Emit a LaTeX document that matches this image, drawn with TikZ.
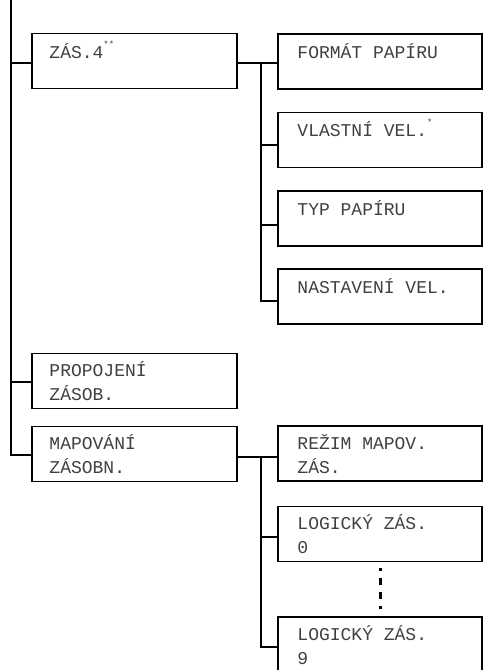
\documentclass[tikz,border=0pt]{standalone}
\usepackage{fontspec}
\setmonofont{Liberation Mono}
\usetikzlibrary{calc}
\definecolor{txt}{HTML}{404040}
\tikzset{
  box/.style={draw=black, line width=1.5pt, rectangle, minimum height=55pt, inner sep=0pt},
  lbox/.style={box, minimum width=205pt},
  rbox/.style={box, minimum width=204pt},
  lbl/.style={anchor=base west, inner sep=0pt, text=txt, font=\ttfamily\fontsize{18}{24}\selectfont},
  conn/.style={line width=1.5pt},
}
\newcommand{\sups}[1]{\raisebox{11pt}{\fontsize{9}{9}\selectfont #1}}
\newcommand{\twoln}[2]{\begin{tabular}[t]{@{}l@{}}#1\\#2\end{tabular}}
\begin{document}
\begin{tikzpicture}[x=1pt,y=-1pt]
\useasboundingbox (0,0) rectangle (484,670);
\clip (0,0) rectangle (484,670);
% boxes
\node[lbox] (zas) at (134.5,61) {};
\node[rbox] (fmt) at (380,61.5) {};
\node[rbox] (vl) at (380,140) {};
\node[rbox] (typ) at (380,218.5) {};
\node[rbox] (nas) at (380,296.5) {};
\node[lbox] (pro) at (134.5,381) {};
\node[lbox] (map) at (134.5,454) {};
\node[rbox] (rez) at (380,453.5) {};
\node[rbox] (lg0) at (380,534) {};
\node[rbox] (lg9) at (380,644.5) {};
% labels
\node[lbl] (tzas) at ([xshift=18pt,yshift=-26pt]zas.north west) {ZÁS.4\sups{**}};
\node[lbl] (tfmt) at ([xshift=20pt,yshift=-25pt]fmt.north west) {FORMÁT PAPÍRU};
\node[lbl] (tvl) at ([xshift=20pt,yshift=-25pt]vl.north west) {VLASTNÍ VEL.\sups{*}};
\node[lbl] (ttyp) at ([xshift=20pt,yshift=-25pt]typ.north west) {TYP PAPÍRU};
\node[lbl] (tnas) at ([xshift=20pt,yshift=-25pt]nas.north west) {NASTAVENÍ VEL.};
\node[lbl] (tpro) at ([xshift=18pt,yshift=-24pt]pro.north west) {\twoln{PROPOJENÍ}{ZÁSOB.}};
\node[lbl] (tmap) at ([xshift=18pt,yshift=-24pt]map.north west) {\twoln{MAPOVÁNÍ}{ZÁSOBN.}};
\node[lbl] (trez) at ([xshift=20pt,yshift=-24pt]rez.north west) {\twoln{REŽIM MAPOV.}{ZÁS.}};
\node[lbl] (tlg0) at ([xshift=20pt,yshift=-24pt]lg0.north west) {\twoln{LOGICKÝ ZÁS.}{0}};
\node[lbl] (tlg9) at ([xshift=20pt,yshift=-24pt]lg9.north west) {\twoln{LOGICKÝ ZÁS.}{9}};
% trunks
\coordinate (top) at (11,-2);
\coordinate (rt) at (261,0);
\draw[conn] (top) |- ([yshift=-1pt]map.west);
\draw[conn] ([yshift=-2pt]zas.west -| top) -- ([yshift=-2pt]zas.west);
\draw[conn] ([yshift=-1pt]pro.west -| top) -- ([yshift=-1pt]pro.west);
% right trunk 1
\draw[conn] ([yshift=-2pt]zas.east) -- ([yshift=-2pt]zas.east -| fmt.west);
\draw[conn] ([yshift=-2pt]zas.east -| rt) |- ([yshift=-4.5pt]nas.west);
\draw[conn] ([yshift=-5pt]vl.west -| rt) -- ([yshift=-5pt]vl.west);
\draw[conn] ([yshift=-6.5pt]typ.west -| rt) -- ([yshift=-6.5pt]typ.west);
% right trunk 2
\draw[conn] ([yshift=-3pt]map.east) -- ([yshift=-3pt]map.east -| rez.west);
\draw[conn] ([yshift=-3pt]map.east -| rt) |- ([yshift=-2.5pt]lg9.west);
\draw[conn] ([yshift=-3pt]lg0.west -| rt) -- ([yshift=-3pt]lg0.west);
% ellipsis
\draw[line width=3pt, dash pattern=on 7pt off 7pt, dash phase=4pt, shorten <=6pt, shorten >=7pt] (lg0.south) -- (lg9.north);
\end{tikzpicture}
\end{document}
